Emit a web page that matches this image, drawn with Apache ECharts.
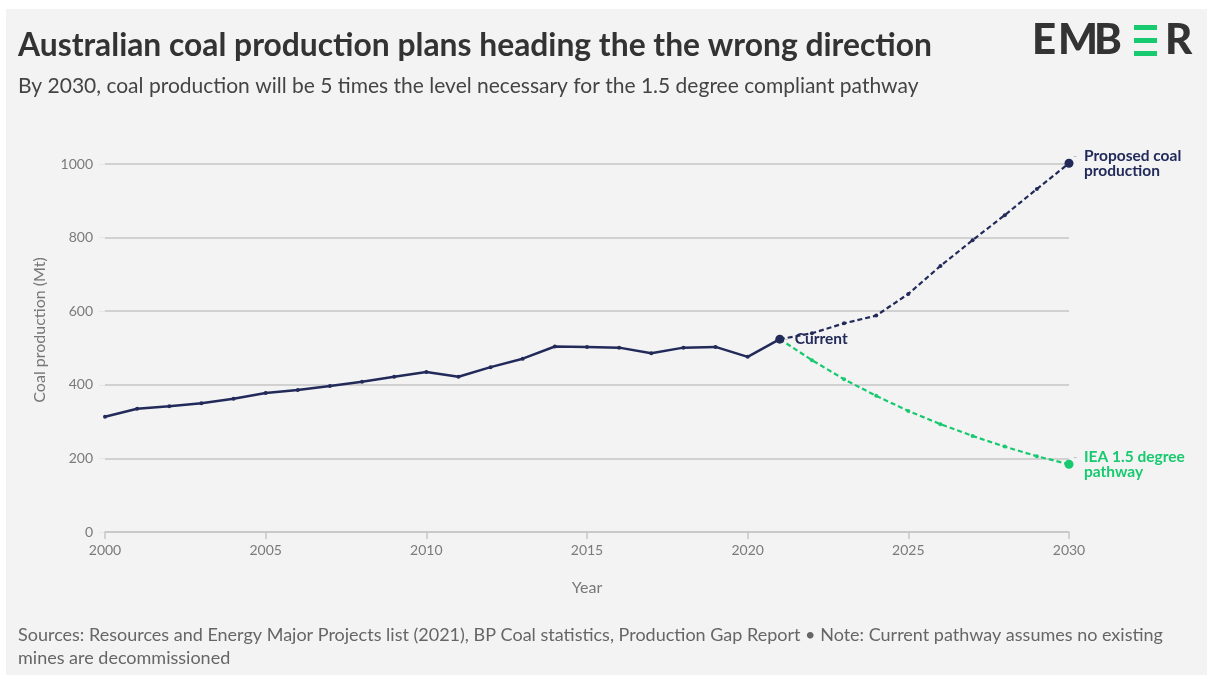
<!DOCTYPE html>
<html>
<head>
<meta charset="utf-8">
<script src="https://cdn.jsdelivr.net/npm/echarts@6/dist/echarts.min.js"></script>
<style>
html, body { margin: 0; padding: 0; background: #fff; }
#main { width: 1207px; height: 675px; }
</style>
</head>
<body>
<div id="main"></div>
<script>
// actual production 2000-2021 (Mt)
var histYears = [2000, 2001, 2002, 2003, 2004, 2005, 2006, 2007, 2008, 2009, 2010,
	2011, 2012, 2013, 2014, 2015, 2016, 2017, 2018, 2019, 2020, 2021];
var historical = [313, 335, 342, 350, 362, 378, 386, 397, 408, 422, 435,
	422, 448, 471, 504, 503, 501, 486, 501, 503, 476, 524];

// pathways 2021-2030
var futureYears = [2021, 2022, 2023, 2024, 2025, 2026, 2027, 2028, 2029, 2030];
var proposed = [524, 540, 567, 588, 647, 723, 793, 861, 932, 1002];
var ieaPathway = [524, 467, 415, 370, 329, 293, 261, 232, 206, 184];

var yTicks = [0, 200, 400, 600, 800, 1000];
var xTicks = [2000, 2005, 2010, 2015, 2020, 2025, 2030];

var NAVY = '#222a5a';
var GREEN = '#17c96f';
var FONT = 'Lato, "Noto Sans", sans-serif';

function pairs(xs, ys) {
	var out = [];
	for (var i = 0; i < xs.length; i++) {
		out.push([xs[i], ys[i]]);
	}
	return out;
}

function endSize(n) {
	return function(val, params) {
		return params.dataIndex === n - 1 ? 9 : 4;
	};
}

function endLabel(lines, color) {
	return {
		show: true,
		distance: 4,
		formatter: function() {
			var s = '{d|-}{t|' + lines[0] + '}';
			for (var i = 1; i < lines.length; i++) {
				s += '\n{s|}{t|' + lines[i] + '}';
			}
			return s;
		},
		rich: {
			d: { color: '#bbbbbb', fontSize: 12, width: 11, fontFamily: FONT },
			s: { width: 11 },
			t: { color: color, fontSize: 15.5, fontWeight: 'bold', fontFamily: FONT, lineHeight: 15 }
		}
	};
}

var chart = echarts.init(document.getElementById('main'));

chart.setOption({
	backgroundColor: '#ffffff',
	animation: false,
	grid: { left: 105, right: 138, top: 164, bottom: 143 },
	xAxis: {
		type: 'value',
		min: 2000,
		max: 2030,
		interval: 5,
		name: 'Year',
		nameLocation: 'middle',
		nameGap: 48,
		nameTextStyle: { color: '#777', fontSize: 16, fontFamily: FONT },
		axisLine: { show: true, lineStyle: { color: '#c6c6c6', width: 1.5 } },
		axisTick: { show: true, length: 7, lineStyle: { color: '#c6c6c6', width: 1.5 } },
		axisLabel: {
			color: '#7a7a7a', fontSize: 14, fontFamily: FONT, margin: 11,
			formatter: function(v) { return xTicks.indexOf(v) >= 0 ? String(v) : ''; }
		},
		splitLine: { show: false }
	},
	yAxis: {
		type: 'value',
		min: 0,
		max: 1000,
		interval: 200,
		axisLine: { show: false },
		axisTick: { show: true, length: 6, lineStyle: { color: '#e6e6e6' } },
		axisLabel: {
			color: '#7a7a7a', fontSize: 14, fontFamily: FONT, margin: 12,
			formatter: function(v) { return yTicks.indexOf(v) >= 0 ? String(v) : ''; }
		},
		splitLine: { lineStyle: { color: '#c6c6c6', width: 1.5 } }
	},
	series: [
		{
			name: 'IEA 1.5 degree pathway',
			type: 'line',
			data: pairs(futureYears, ieaPathway),
			clip: false,
			showAllSymbol: true,
			symbol: 'circle',
			symbolSize: endSize(futureYears.length),
			itemStyle: { color: GREEN },
			lineStyle: { color: GREEN, width: 2.2, type: [5, 3] },
			endLabel: endLabel(['IEA 1.5 degree', 'pathway'], GREEN),
			z: 3
		},
		{
			name: 'Proposed coal production',
			type: 'line',
			data: pairs(futureYears, proposed),
			clip: false,
			showAllSymbol: true,
			symbol: 'circle',
			symbolSize: endSize(futureYears.length),
			itemStyle: { color: NAVY },
			lineStyle: { color: NAVY, width: 2.2, type: [5, 3] },
			endLabel: endLabel(['Proposed coal', 'production'], NAVY),
			z: 4
		},
		{
			name: 'Current',
			type: 'line',
			data: pairs(histYears, historical),
			clip: false,
			showAllSymbol: true,
			symbol: 'circle',
			symbolSize: endSize(histYears.length),
			itemStyle: { color: NAVY },
			lineStyle: { color: NAVY, width: 2.5 },
			endLabel: endLabel(['Current'], NAVY),
			z: 5
		}
	],
	graphic: [
		{
			type: 'rect', z: -10, silent: true,
			shape: { x: 6, y: 9, width: 1201, height: 666 },
			style: { fill: '#f3f3f3' }
		},
		{
			type: 'text', left: 18, top: 30,
			style: { text: 'Australian coal production plans heading the the wrong direction',
				font: 'bold 31.8px ' + FONT, fill: '#333333' }
		},
		{
			type: 'text', left: 18, top: 76,
			style: { text: 'By 2030, coal production will be 5 times the level necessary for the 1.5 degree compliant pathway',
				font: '21px ' + FONT, fill: '#444444' }
		},
		{
			type: 'text', x: 40, y: 330, rotation: Math.PI / 2,
			style: { text: 'Coal production (Mt)', font: '16px ' + FONT, fill: '#777777',
				align: 'center', verticalAlign: 'middle' }
		},
		{
			type: 'text', left: 18, top: 624,
			style: { text: 'Sources: Resources and Energy Major Projects list (2021), BP Coal statistics, Production Gap Report \u2022 Note: Current pathway assumes no existing\nmines are decommissioned',
				font: '18px ' + FONT, fill: '#666666', lineHeight: 23 }
		},
		// EMBER logo
		{ type: 'text', x: 1032, y: 40, style: { text: 'E', font: '900 42px ' + FONT, fill: '#333333', verticalAlign: 'middle' } },
		{ type: 'text', x: 1058, y: 40, style: { text: 'M', font: '900 42px ' + FONT, fill: '#333333', verticalAlign: 'middle' } },
		{ type: 'text', x: 1094, y: 40, style: { text: 'B', font: '900 42px ' + FONT, fill: '#333333', verticalAlign: 'middle' } },
		{ type: 'rect', shape: { x: 1134, y: 25, width: 23, height: 5 }, style: { fill: GREEN } },
		{ type: 'rect', shape: { x: 1134, y: 38, width: 23, height: 5 }, style: { fill: GREEN } },
		{ type: 'rect', shape: { x: 1134, y: 51, width: 23, height: 5 }, style: { fill: GREEN } },
		{ type: 'text', x: 1165, y: 40, style: { text: 'R', font: '900 42px ' + FONT, fill: '#333333', verticalAlign: 'middle' } }
	]
});
</script>
</body>
</html>
